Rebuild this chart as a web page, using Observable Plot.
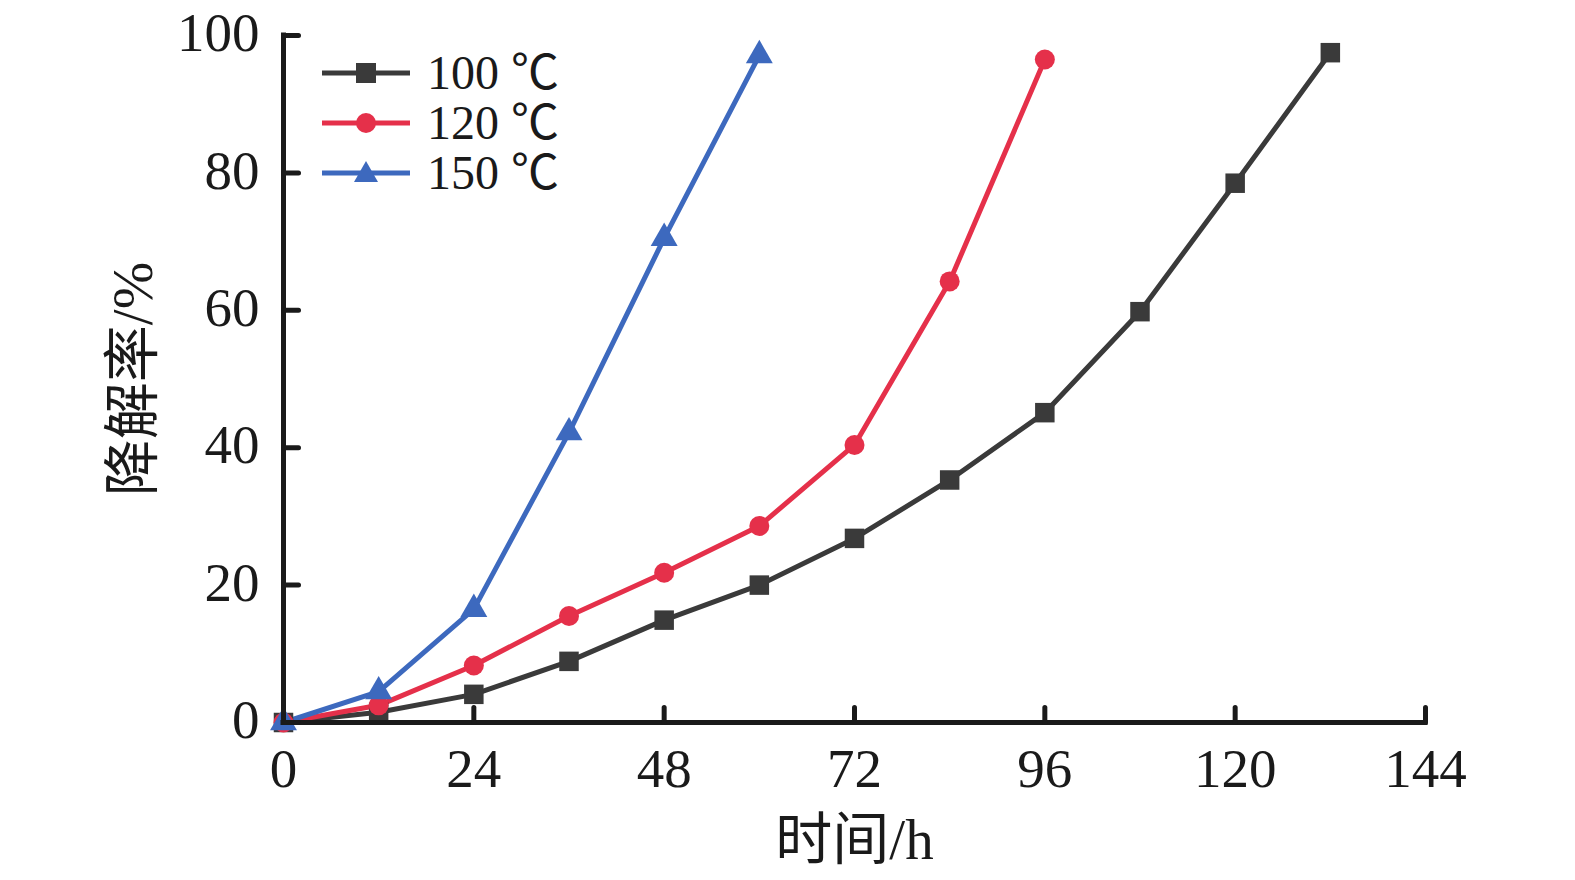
<!DOCTYPE html>
<html><head><meta charset="utf-8">
<script src="https://cdn.jsdelivr.net/npm/d3@7"></script>
<script src="https://cdn.jsdelivr.net/npm/@observablehq/plot@0.6"></script>
<style>
body{margin:0;background:#fff;}
#wrap{position:relative;width:1575px;height:880px;font-family:"Liberation Serif","Noto Sans CJK SC",serif;}
#legend{position:absolute;left:322px;top:48px;}
.row{display:flex;align-items:center;height:50px;}
.row span{font-size:48px;line-height:1;color:#1a1a1a;margin-left:17px;font-family:"Liberation Serif","Noto Sans CJK SC",serif;}
</style></head>
<body><div id="wrap"></div>
<script>
const seriesNames = ["100 ℃", "120 ℃", "150 ℃"];
const colors = ["#3a3a3a", "#e5304a", "#3d69be"];
const symbols = ["square", "circle", "triangle"];
const hours100 = [0, 12, 24, 36, 48, 60, 72, 84, 96, 108, 120, 132];
const rate100 = [0, 1.5, 4.1, 8.9, 14.9, 20.0, 26.8, 35.3, 45.1, 59.8, 78.5, 97.5];
const hours120 = [0, 12, 24, 36, 48, 60, 72, 84, 96];
const rate120 = [0, 2.5, 8.3, 15.5, 21.8, 28.6, 40.4, 64.2, 96.5];
const hours150 = [0, 12, 24, 36, 48, 60];
const rate150 = [0, 4.5, 16.5, 42.2, 70.5, 97.1];
const xTicks = [0, 24, 48, 72, 96, 120, 144];
const yTicks = [0, 20, 40, 60, 80, 100];
const xLabel = "时间/h";
const yLabel = "降解率/%";

const rows = [];
[[hours100, rate100], [hours120, rate120], [hours150, rate150]].forEach(([h, r], i) => {
  h.forEach((t, j) => rows.push({series: seriesNames[i], t, v: r[j]}));
});

const tickShape = {draw(ctx, l) { ctx.moveTo(0, 0); ctx.lineTo(0, -l); }};
const font = '"Liberation Serif","Noto Sans CJK SC",serif';
const ink = "#1a1a1a";

const marks = [];
seriesNames.forEach((s, i) => {
  const d = rows.filter(r => r.series === s);
  marks.push(Plot.line(d, {x: "t", y: "v", stroke: colors[i], strokeWidth: 5}));
});
seriesNames.forEach((s, i) => {
  const d = rows.filter(r => r.series === s);
  marks.push(Plot.dot(d, {x: "t", y: "v", fill: colors[i], symbol: () => symbols[i], r: i === 0 ? 11 : 10, stroke: "none"}));
});
marks.push(Plot.ruleY([0], {stroke: ink, strokeWidth: 5, strokeLinecap: "square"}));
marks.push(Plot.ruleX([0], {stroke: ink, strokeWidth: 5, strokeLinecap: "square"}));
marks.push(Plot.vector(xTicks, {x: d => d, y: 0, length: 15, rotate: 0, anchor: "start", shape: tickShape, stroke: ink, strokeWidth: 5}));
marks.push(Plot.vector(yTicks, {x: 0, y: d => d, length: 15, rotate: 90, anchor: "start", shape: tickShape, stroke: ink, strokeWidth: 5}));
marks.push(Plot.text(xTicks, {x: d => d, y: 0, text: d => String(d), dy: 47, fontSize: 55, fill: ink, fontFamily: font}));
marks.push(Plot.text(yTicks, {x: 0, y: d => d, text: d => String(d), dx: -24, dy: -2, textAnchor: "end", fontSize: 55, fill: ink, fontFamily: font}));
marks.push(Plot.text([xLabel], {frameAnchor: "bottom", text: d => d, dy: 118, textAnchor: "middle", lineAnchor: "middle", fontSize: 57, fill: ink, fontFamily: font}));
marks.push(Plot.text([yLabel], {frameAnchor: "left", text: d => d, dx: -150, rotate: -90, textAnchor: "middle", lineAnchor: "middle", fontSize: 57, fill: ink, fontFamily: font}));

const chart = Plot.plot({
  width: 1575, height: 880,
  marginLeft: 283, marginRight: 150, marginTop: 35, marginBottom: 158,
  x: {domain: [0, 144], axis: null},
  y: {domain: [0, 100], axis: null},
  style: {background: "#fff", fontFamily: font},
  marks
});
const wrap = document.getElementById("wrap");
wrap.appendChild(chart);

const legend = document.createElement("div");
legend.id = "legend";
seriesNames.forEach((s, i) => {
  const row = document.createElement("div");
  row.className = "row";
  const sym = i === 0 ? '<rect x="34" y="15" width="20" height="20"/>' :
              i === 1 ? '<circle cx="44" cy="25" r="10"/>' :
              '<path d="M44,13 L56,34 L32,34 Z"/>';
  row.innerHTML = `<svg width="88" height="50"><line x1="0" x2="88" y1="25" y2="25" stroke="${colors[i]}" stroke-width="5"/><g fill="${colors[i]}">${sym}</g></svg><span>${s}</span>`;
  legend.appendChild(row);
});
wrap.appendChild(legend);
</script></body></html>
